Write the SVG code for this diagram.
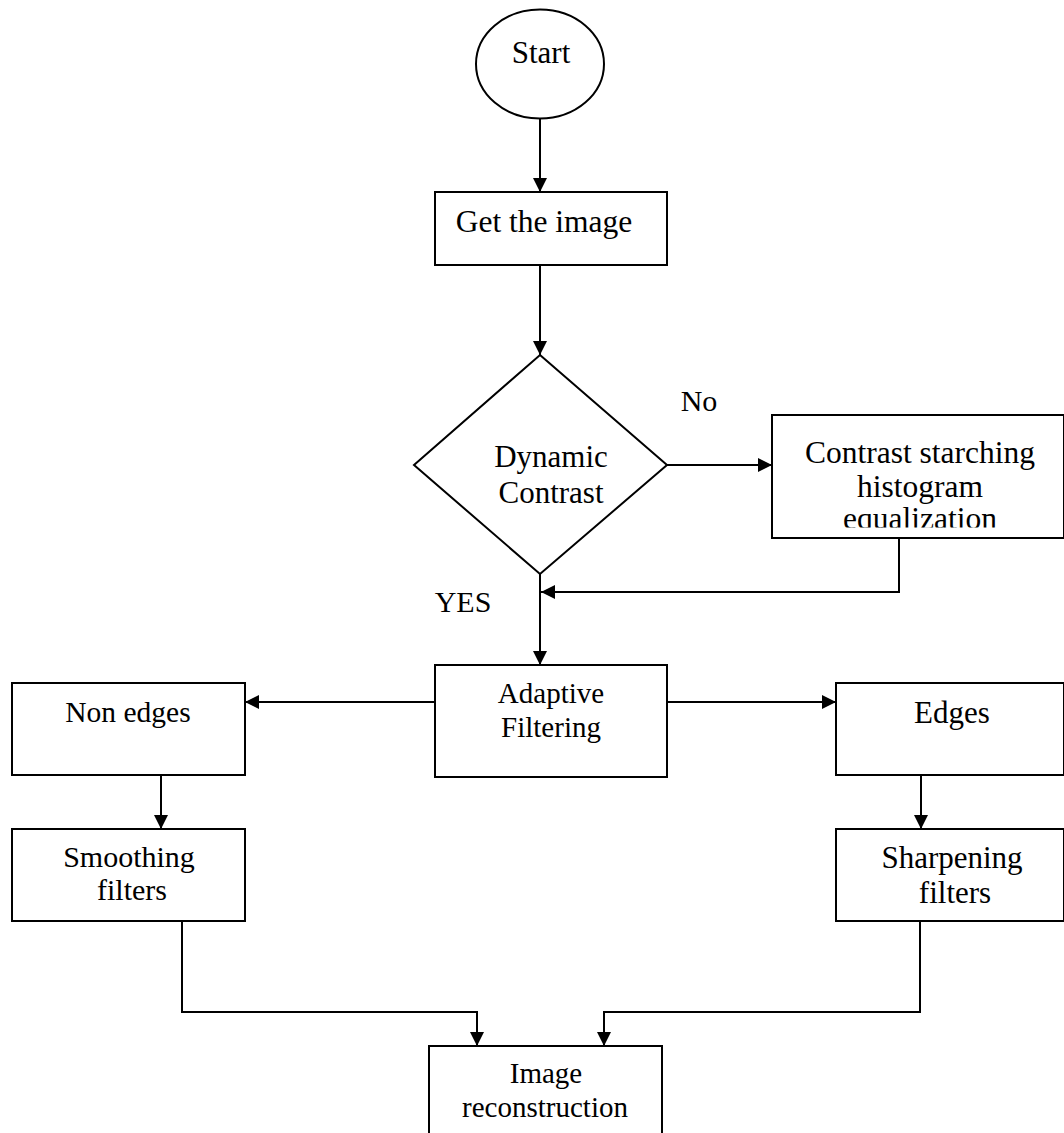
<svg xmlns="http://www.w3.org/2000/svg" width="1064" height="1133" viewBox="0 0 1064 1133">
<defs>
<marker id="ah" markerWidth="14" markerHeight="14" refX="14" refY="7" orient="auto" markerUnits="userSpaceOnUse">
<path d="M0,0 L14,7 L0,14 Z" fill="#000"/>
</marker>
<clipPath id="clipC"><rect x="772" y="415" width="292" height="112.5"/></clipPath>
</defs>
<style>
.shape{fill:#fff;stroke:#000;stroke-width:2}
.t{font-family:"Liberation Serif","Times New Roman",serif;fill:#000;text-anchor:middle}
.c{fill:none;stroke:#000;stroke-width:2}
</style>
<rect width="1064" height="1133" fill="#fff"/>
<g id="connectors">
<path class="c" d="M540,118 L540,192" marker-end="url(#ah)"/>
<path class="c" d="M540,265 L540,355" marker-end="url(#ah)"/>
<path class="c" d="M667,465 L772,465" marker-end="url(#ah)"/>
<path class="c" d="M899,538 L899,592 L541,592" marker-end="url(#ah)"/>
<path class="c" d="M540,574 L540,665" marker-end="url(#ah)"/>
<path class="c" d="M435,702 L245,702" marker-end="url(#ah)"/>
<path class="c" d="M667,702 L836,702" marker-end="url(#ah)"/>
<path class="c" d="M161,775 L161,829" marker-end="url(#ah)"/>
<path class="c" d="M921,775 L921,829" marker-end="url(#ah)"/>
<path class="c" d="M182,921 L182,1012 L477,1012 L477,1046" marker-end="url(#ah)"/>
<path class="c" d="M920,921 L920,1012 L604,1012 L604,1046" marker-end="url(#ah)"/>
</g>
<g id="start">
<ellipse class="shape" cx="540" cy="64" rx="64" ry="54.5"/>
<text class="t" x="541" y="63" font-size="31">Start</text>
</g>
<g id="get-image">
<rect class="shape" x="435" y="192" width="232" height="73"/>
<text class="t" x="544" y="232" font-size="31.5">Get the image</text>
</g>
<g id="dynamic-contrast">
<polygon class="shape" points="540,355 667,465 540,574 414,465"/>
<text class="t" x="551" y="467" font-size="31">Dynamic</text>
<text class="t" x="551" y="503" font-size="31">Contrast</text>
</g>
<g id="label-no"><text class="t" x="699" y="411" font-size="30">No</text></g>
<g id="label-yes"><text class="t" x="463" y="612" font-size="30">YES</text></g>
<g id="contrast-stretching">
<rect class="shape" x="772" y="415" width="292" height="123"/>
<g clip-path="url(#clipC)">
<text class="t" x="920" y="463" font-size="31.5">Contrast starching</text>
<text class="t" x="920" y="497" font-size="31.5">histogram</text>
<text class="t" x="920" y="529" font-size="31.5">equalization</text>
</g>
</g>
<g id="adaptive-filtering">
<rect class="shape" x="435" y="665" width="232" height="112"/>
<text class="t" x="551" y="703" font-size="29">Adaptive</text>
<text class="t" x="551" y="737" font-size="29">Filtering</text>
</g>
<g id="non-edges">
<rect class="shape" x="12" y="683" width="233" height="92"/>
<text class="t" x="128" y="722" font-size="29.5">Non edges</text>
</g>
<g id="edges">
<rect class="shape" x="836" y="683" width="228" height="92"/>
<text class="t" x="952" y="723" font-size="31">Edges</text>
</g>
<g id="smoothing">
<rect class="shape" x="12" y="829" width="233" height="92"/>
<text class="t" x="129" y="867" font-size="30">Smoothing</text>
<text class="t" x="132" y="900" font-size="30">filters</text>
</g>
<g id="sharpening">
<rect class="shape" x="836" y="829" width="228" height="92"/>
<text class="t" x="952" y="868" font-size="31">Sharpening</text>
<text class="t" x="955" y="903" font-size="31">filters</text>
</g>
<g id="image-reconstruction">
<rect class="shape" x="429" y="1046" width="233" height="100"/>
<text class="t" x="546" y="1083" font-size="29">Image</text>
<text class="t" x="545" y="1117" font-size="29">reconstruction</text>
</g>
</svg>
